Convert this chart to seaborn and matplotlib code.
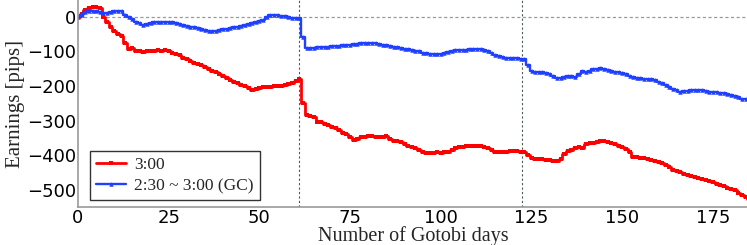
import matplotlib
matplotlib.use("Agg")
import matplotlib.pyplot as plt
import numpy as np
import pandas as pd
import seaborn as sns

# Earnings per Gotobi day (pips)
EARN_300 = [
    0, 8, 20, 25, 30, 30, 25, 0, -15, -30,
    -40, -48, -55, -75, -92, -90, -100, -100, -102, -100,
    -99, -98, -97, -98, -96, -100, -105, -108, -110, -119,
    -122, -128, -133, -137, -140, -145, -150, -155, -158, -165,
    -170, -178, -183, -188, -192, -197, -200, -207, -210, -208,
    -206, -204, -203, -202, -201, -200, -199, -196, -193, -190,
    -185, -180, -248, -283, -286, -290, -303, -305, -310, -312,
    -318, -322, -328, -335, -340, -348, -356, -352, -348, -346,
    -345, -344, -346, -347, -346, -345, -352, -358, -360, -363,
    -368, -372, -375, -380, -386, -390, -394, -394, -393, -392,
    -393, -392, -390, -386, -380, -375, -377, -374, -373, -372,
    -372, -373, -376, -380, -386, -392, -392, -390, -391, -389,
    -388, -389, -390, -392, -400, -408, -410, -410, -411, -413,
    -414, -416, -418, -410, -398, -389, -385, -380, -375, -378,
    -367, -366, -364, -362, -360, -360, -362, -365, -368, -372,
    -375, -382, -392, -404, -406, -407, -407, -410, -415, -418,
    -420, -422, -428, -435, -442, -447, -450, -455, -458, -460,
    -462, -465, -469, -473, -476, -479, -483, -486, -490, -494,
    -497, -502, -508, -515, -522, -528,
]

EARN_GC = [
    0, 5, 14, 16, 17, 16, 14, 12, 12, 14,
    16, 17, 18, 5, 0, -5, -14, -18, -23, -20,
    -17, -16, -16, -15, -16, -16, -16, -17, -20, -23,
    -26, -28, -30, -33, -36, -38, -40, -40, -40, -38,
    -36, -35, -33, -30, -28, -25, -22, -20, -17, -15,
    -13, -9, 0, 5, 6, 6, 4, 2, 0, -2,
    -3, -3, -57, -91, -90, -89, -88, -87, -86, -86,
    -85, -84, -83, -82, -80, -80, -79, -78, -76, -75,
    -74, -75, -76, -78, -80, -82, -84, -87, -88, -90,
    -92, -94, -96, -98, -100, -103, -105, -107, -107, -107,
    -106, -104, -102, -100, -96, -95, -96, -95, -94, -93,
    -93, -92, -95, -100, -105, -110, -112, -115, -118, -119,
    -119, -120, -121, -122, -139, -156, -158, -159, -160, -161,
    -165, -170, -177, -176, -175, -172, -171, -173, -165, -156,
    -158, -155, -152, -150, -148, -150, -153, -156, -158, -160,
    -161, -165, -170, -174, -177, -178, -180, -180, -181, -182,
    -187, -192, -197, -203, -208, -212, -216, -214, -213, -212,
    -211, -211, -212, -214, -216, -217, -218, -219, -221, -223,
    -226, -230, -233, -236, -238, -240,
]

LABEL_300 = "3:00"
LABEL_GC = "2:30 ~ 3:00 (GC)"
BOUNDARIES = [61, 122.5]
X_TICKS = [0, 25, 50, 75, 100, 125, 150, 175]
Y_TICKS = [0, -100, -200, -300, -400, -500]

days = np.arange(len(EARN_300))
df = pd.DataFrame({"day": days, "e300": EARN_300, "egc": EARN_GC})

sns.set_theme(style="white")
plt.rcParams["font.family"] = ["DejaVu Sans"]

fig = plt.figure(figsize=(7.47, 2.45), dpi=100)
ax = fig.add_axes([0.1044, 0.155, 0.8956 + 0.003, 0.845])

for b in BOUNDARIES:
    ax.axvline(b, color="#4a5a5a", linestyle="--", linewidth=0.8, dashes=(2, 2))
ax.axhline(0, color="#999999", linestyle="--", linewidth=0.9, dashes=(2.5, 2))

sns.lineplot(data=df, x="day", y="e300", ax=ax, color="#ff0000",
             marker="s", markersize=3.2, markeredgewidth=0, linewidth=2.0,
             drawstyle="steps-mid", label=LABEL_300)
sns.lineplot(data=df, x="day", y="egc", ax=ax, color="#2040ff",
             marker="^", markersize=3.2, markeredgewidth=0, linewidth=1.7,
             drawstyle="steps-mid", label=LABEL_GC)

ax.set_xlim(0, 185)
ax.set_ylim(-550, 49)
ax.set_xticks(X_TICKS)
ax.set_yticks(Y_TICKS)
ax.set_yticklabels([f"\u2212{abs(v)}" if v < 0 else str(v) for v in Y_TICKS])
ax.tick_params(axis="both", length=0, labelsize=13, pad=1.5, colors="black")

ax.set_xlabel("Number of Gotobi days", family="Liberation Serif", fontsize=14.5)
ax.xaxis.set_label_coords(0.5, -0.092)
ax.set_ylabel("Earnings [pips]", family="Liberation Serif", fontsize=15, labelpad=1)

for side in ["top", "right"]:
    ax.spines[side].set_visible(False)
for side in ["left", "bottom"]:
    ax.spines[side].set_color("#999999")
    ax.spines[side].set_linewidth(1.2)

leg = ax.legend(loc="lower left", bbox_to_anchor=(0.018, 0.034), borderaxespad=0,
                frameon=True, fancybox=False,
                prop={"family": "Liberation Serif", "size": 12.5},
                handlelength=1.7, handletextpad=0.5, borderpad=0.35, labelspacing=0.25)
leg.get_frame().set_edgecolor("black")
leg.get_frame().set_linewidth(1.0)

fig.savefig("out.png", dpi=100)
